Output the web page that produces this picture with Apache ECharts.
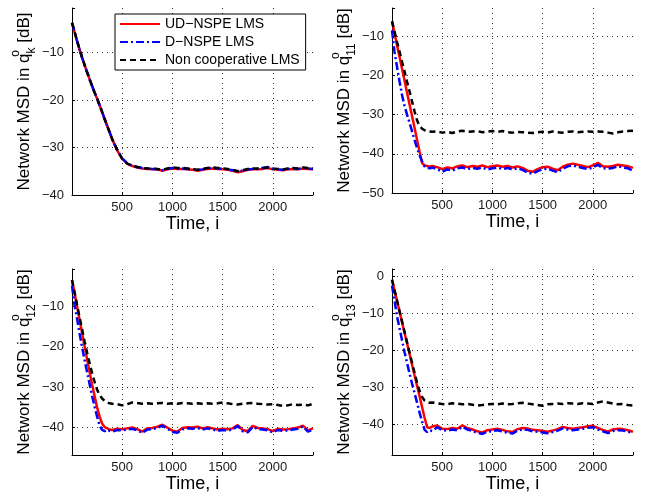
<!doctype html>
<html lang="en">
<head>
<meta charset="utf-8">
<title>Network MSD</title>
<script src="https://cdn.jsdelivr.net/npm/echarts@6/dist/echarts.min.js"></script>
</head>
<body style="margin:0;background:#fff">
<div id="main" style="width:645px;height:497px;"></div>
<script>
// time index of every sample (finer during the transient)
var time = [0, 25, 50, 75, 100, 125, 150, 175, 200, 225, 250, 275, 300, 325, 350, 375, 400,
  450, 500, 550, 600, 650, 700, 750, 800, 850, 900, 950, 1000, 1050, 1100, 1150, 1200, 1250, 1300, 1350, 1400,
  1450, 1500, 1550, 1600, 1650, 1700, 1750, 1800, 1850, 1900, 1950, 2000, 2050, 2100, 2150, 2200, 2250, 2300, 2350, 2400];

var seriesNames = ['UD\u2212NSPE LMS', 'D\u2212NSPE LMS', 'Non cooperative LMS'];
var subscripts = ['k', '11', '12', '13'];
var yMin = [-40, -50, -46.8, -48.3];
var yMax = [-0.6, -2.8, -0.7, 2.0];

// panel 1 : q_k
var p1Red = [-3.7, -5.6, -7.5, -9.3, -11.0, -12.6, -14.1, -15.6, -17.0, -18.4, -19.7, -21.1, -22.5, -24.0, -25.4, -26.8, -28.2,
  -30.6, -32.4, -33.4, -33.9, -34.2, -34.4, -34.5, -34.6, -34.6, -34.9, -34.6, -34.4, -34.5, -34.5, -34.6, -34.7, -34.9, -34.7, -34.5, -34.4,
  -34.5, -34.6, -34.7, -34.9, -35.2, -35.0, -34.7, -34.6, -34.6, -34.5, -34.3, -34.6, -34.7, -34.8, -34.6, -34.5, -34.6, -34.4, -34.5, -34.6];
var p1Blue = [-3.7, -5.6, -7.5, -9.3, -11.0, -12.6, -14.1, -15.6, -17.0, -18.4, -19.7, -21.1, -22.5, -24.0, -25.4, -26.8, -28.2,
  -30.5, -32.3, -33.3, -33.8, -34.1, -34.3, -34.4, -34.5, -34.6, -34.8, -34.5, -34.3, -34.4, -34.4, -34.5, -34.6, -34.7, -34.6, -34.4, -34.3,
  -34.4, -34.5, -34.6, -34.8, -35.0, -34.9, -34.6, -34.5, -34.5, -34.3, -34.1, -34.5, -34.6, -34.7, -34.5, -34.4, -34.5, -34.3, -34.4, -34.5];
var p1Black = [-3.7, -5.6, -7.5, -9.3, -11.0, -12.6, -14.1, -15.6, -17.0, -18.4, -19.7, -21.1, -22.5, -24.0, -25.4, -26.8, -28.2,
  -30.5, -32.4, -33.4, -33.9, -34.1, -34.3, -34.4, -34.4, -34.5, -34.7, -34.4, -34.2, -34.3, -34.3, -34.4, -34.5, -34.7, -34.5, -34.3, -34.2,
  -34.3, -34.4, -34.5, -34.7, -35.0, -34.8, -34.5, -34.4, -34.4, -34.3, -34.2, -34.4, -34.5, -34.6, -34.4, -34.3, -34.4, -34.2, -34.3, -34.4];

// panel 2 : q_11
var p2Red = [-6.2, -9.2, -12.3, -15.3, -18.3, -21.3, -24.4, -27.4, -30.4, -33.4, -36.5, -39.5, -42.3, -43.0, -43.1, -43.3, -43.1,
  -43.4, -43.9, -43.5, -43.7, -43.2, -43.0, -43.4, -43.1, -43.3, -43.0, -43.4, -43.2, -43.0, -43.3, -43.1, -43.5, -43.2, -43.6, -44.3, -44.6,
  -43.9, -43.4, -43.3, -43.8, -44.2, -43.3, -42.8, -42.5, -42.8, -43.1, -43.4, -43.0, -42.3, -43.2, -43.3, -43.1, -42.8, -43.0, -43.2, -43.6];
var p2Blue = [-8.5, -14.0, -17.8, -21.5, -25.0, -27.8, -30.0, -32.1, -34.3, -36.5, -38.6, -40.4, -42.0, -43.2, -43.6, -43.7, -43.5,
  -43.9, -44.6, -44.0, -44.3, -43.7, -43.5, -43.9, -43.6, -43.8, -43.5, -44.0, -43.7, -43.5, -43.9, -43.6, -44.0, -43.7, -44.1, -44.8, -45.1,
  -44.4, -43.9, -43.8, -44.3, -44.7, -43.8, -43.2, -43.0, -43.3, -43.6, -43.9, -43.5, -42.8, -43.7, -43.8, -43.6, -43.2, -43.5, -43.7, -44.3];
var p2Black = [-6.2, -8.8, -11.4, -13.9, -16.5, -19.0, -21.6, -24.1, -26.7, -29.2, -31.5, -32.9, -33.6, -34.0, -34.2, -34.3, -34.4,
  -34.3, -34.6, -34.4, -34.7, -34.3, -34.1, -34.4, -34.3, -34.2, -34.5, -34.3, -34.2, -34.4, -34.2, -34.5, -34.6, -34.4, -34.5, -34.6, -34.7,
  -34.5, -34.4, -34.6, -34.3, -34.5, -34.6, -34.4, -34.3, -34.5, -34.4, -34.3, -34.4, -34.3, -34.4, -34.6, -34.8, -34.5, -34.3, -34.2, -34.1];

// panel 3 : q_12
var p3Red = [-3.4, -6.6, -9.9, -13.2, -16.5, -19.8, -23.0, -26.2, -29.3, -32.2, -35.0, -37.3, -39.0, -39.9, -40.2, -40.5, -40.6,
  -40.3, -40.4, -40.2, -40.0, -40.4, -41.0, -40.2, -40.1, -39.8, -39.3, -40.0, -40.8, -41.0, -40.1, -39.9, -40.0, -39.8, -40.2, -39.9, -40.2,
  -40.5, -40.3, -40.4, -40.2, -39.4, -40.6, -40.9, -39.6, -40.1, -40.2, -40.4, -40.9, -40.3, -40.5, -40.4, -40.2, -40.0, -39.5, -40.7, -40.2];
var p3Blue = [-4.8, -9.6, -13.0, -16.6, -20.0, -23.2, -26.2, -29.2, -32.1, -34.8, -37.3, -39.5, -40.6, -40.9, -40.5, -40.8, -41.0,
  -40.6, -40.7, -40.5, -40.3, -40.7, -41.3, -40.5, -40.4, -40.1, -39.5, -40.3, -41.1, -41.3, -40.4, -40.2, -40.3, -40.1, -40.5, -40.2, -40.5,
  -40.8, -40.6, -40.7, -40.5, -39.6, -40.9, -41.2, -39.8, -40.4, -40.5, -40.7, -41.2, -40.6, -40.8, -40.7, -40.5, -40.3, -39.7, -41.0, -40.5];
var p3Black = [-3.4, -6.4, -9.5, -12.6, -15.6, -18.6, -21.4, -24.0, -26.5, -28.7, -30.6, -31.9, -32.8, -33.4, -33.8, -34.0, -34.1,
  -34.2, -34.5, -34.2, -33.8, -33.9, -34.1, -34.0, -34.1, -34.0, -33.9, -34.1, -34.0, -34.1, -33.9, -34.0, -34.1, -34.0, -34.1, -34.0, -34.1,
  -34.0, -33.8, -34.0, -34.2, -34.3, -34.1, -34.0, -33.9, -34.1, -34.2, -34.3, -34.2, -34.4, -34.6, -34.5, -34.2, -34.4, -34.3, -34.5, -34.1];

// panel 4 : q_13
var p4Red = [-0.9, -3.8, -6.6, -9.5, -12.4, -15.3, -18.1, -21.0, -23.9, -26.8, -29.6, -32.5, -35.4, -38.3, -40.8, -41.0, -40.6,
  -40.3, -41.2, -41.3, -41.0, -41.2, -40.3, -41.0, -41.4, -41.9, -42.2, -41.6, -41.4, -41.2, -41.5, -41.9, -42.1, -41.3, -41.0, -41.1, -41.5,
  -41.6, -41.8, -42.0, -41.7, -41.3, -40.7, -41.0, -41.2, -41.0, -40.8, -40.5, -40.4, -41.0, -41.5, -42.0, -41.4, -41.2, -41.3, -41.6, -42.0];
var p4Blue = [-2.5, -6.5, -10.8, -14.0, -17.3, -20.5, -23.4, -26.3, -29.0, -31.6, -34.2, -36.9, -39.3, -41.5, -42.1, -41.6, -41.8,
  -40.8, -41.6, -41.7, -41.4, -41.6, -40.7, -41.4, -41.8, -42.3, -42.6, -42.0, -41.8, -41.6, -41.9, -42.3, -42.5, -41.7, -41.4, -41.5, -41.9,
  -42.0, -42.2, -42.4, -42.1, -41.7, -41.1, -41.4, -41.6, -41.4, -41.2, -40.9, -40.8, -41.4, -41.9, -42.4, -41.8, -41.6, -41.7, -42.0, -42.4];
var p4Black = [-0.9, -3.7, -6.5, -9.4, -12.2, -15.0, -17.8, -20.6, -23.4, -26.1, -28.8, -31.0, -32.6, -33.6, -34.0, -34.2, -34.1,
  -34.3, -34.5, -34.6, -34.3, -34.4, -34.6, -34.5, -34.7, -34.9, -34.8, -34.6, -34.5, -34.6, -34.4, -34.6, -34.5, -34.3, -34.2, -34.4, -34.6,
  -34.8, -35.0, -34.6, -34.5, -34.4, -34.5, -34.3, -34.4, -34.5, -34.3, -34.4, -34.5, -34.1, -33.8, -34.1, -34.4, -34.6, -34.5, -34.8, -34.9];

var panels = [
  [p1Red, p1Blue, p1Black],
  [p2Red, p2Blue, p2Black],
  [p3Red, p3Blue, p3Black],
  [p4Red, p4Blue, p4Black]
];

var FONT = '"Liberation Sans", Arial, Helvetica, sans-serif';
var colors = ['#ff0000', '#0000ff', '#000000'];
var lineTypes = ['solid', [8, 3, 2, 3], [6, 4]];

var grids = [
  {left: 72, top: 8, width: 241, height: 187},
  {left: 392, top: 8, width: 241, height: 185},
  {left: 72, top: 269, width: 241, height: 186},
  {left: 392, top: 269, width: 241, height: 186}
];

function minus(v) {
  return String(v).replace('-', '\u2212');
}

var gridLine = {show: true, showMinLine: false, showMaxLine: false,
  lineStyle: {color: '#333', type: [1, 4], width: 1}};

var xAxes = grids.map(function (g, i) {
  return {
    type: 'value', gridIndex: i, min: 0, max: 2400, interval: 500,
    axisLine: {show: true, onZero: false, lineStyle: {color: '#000', width: 1}},
    axisTick: {show: true, inside: true, length: 3, lineStyle: {color: '#000'}},
    axisLabel: {fontSize: 13, color: '#1a1a1a', fontFamily: FONT, margin: 6,
      formatter: function (v) { return (v > 0 && v % 500 === 0) ? String(v) : ''; }},
    splitLine: gridLine,
    name: 'Time, i', nameLocation: 'middle', nameGap: 12,
    nameTextStyle: {fontSize: 18, color: '#000', fontFamily: FONT}
  };
});

var yAxes = grids.map(function (g, i) {
  return {
    type: 'value', gridIndex: i, min: yMin[i], max: yMax[i], splitNumber: 5,
    axisLine: {show: true, onZero: false, lineStyle: {color: '#000', width: 1}},
    axisTick: {show: true, inside: true, length: 3, lineStyle: {color: '#000'}},
    axisLabel: {fontSize: 13, color: '#1a1a1a', fontFamily: FONT, margin: 8,
      formatter: function (v) { return Math.abs(v % 10) < 1e-9 ? minus(v) : ''; }},
    splitLine: gridLine,
    name: 'Network MSD in q{s|o}{b|' + subscripts[i] + '} [dB]',
    nameLocation: 'middle', nameGap: 34,
    nameTextStyle: {fontSize: 17, color: '#000', fontFamily: FONT, lineHeight: 28,
      rich: {
        s: {fontSize: 12, fontFamily: FONT, color: '#000', verticalAlign: 'top', lineHeight: 12, width: 0, align: 'left'},
        b: {fontSize: 12, fontFamily: FONT, color: '#000', verticalAlign: 'bottom', lineHeight: 12}
      }}
  };
});

var series = [];
panels.forEach(function (sets, i) {
  sets.forEach(function (vals, k) {
    series.push({
      type: 'line', name: seriesNames[k], xAxisIndex: i, yAxisIndex: i,
      data: time.map(function (t, j) { return [t, vals[j]]; }),
      symbol: 'none', smooth: false,
      lineStyle: {color: colors[k], width: 2.5, type: lineTypes[k]},
      itemStyle: {color: colors[k]}
    });
  });
});

var chart = echarts.init(document.getElementById('main'));
chart.setOption({
  animation: false,
  backgroundColor: '#fff',
  grid: grids,
  xAxis: xAxes,
  yAxis: yAxes,
  legend: {
    data: seriesNames, orient: 'vertical', left: 115, top: 14,
    backgroundColor: '#fff', borderColor: '#000', borderWidth: 1, borderRadius: 0,
    padding: [3, 6, 3, 4], itemWidth: 40, itemHeight: 14, itemGap: 4,
    itemStyle: {opacity: 0},
    textStyle: {fontSize: 14, fontFamily: FONT, color: '#000'}
  },
  series: series
});
</script>
</body>
</html>
